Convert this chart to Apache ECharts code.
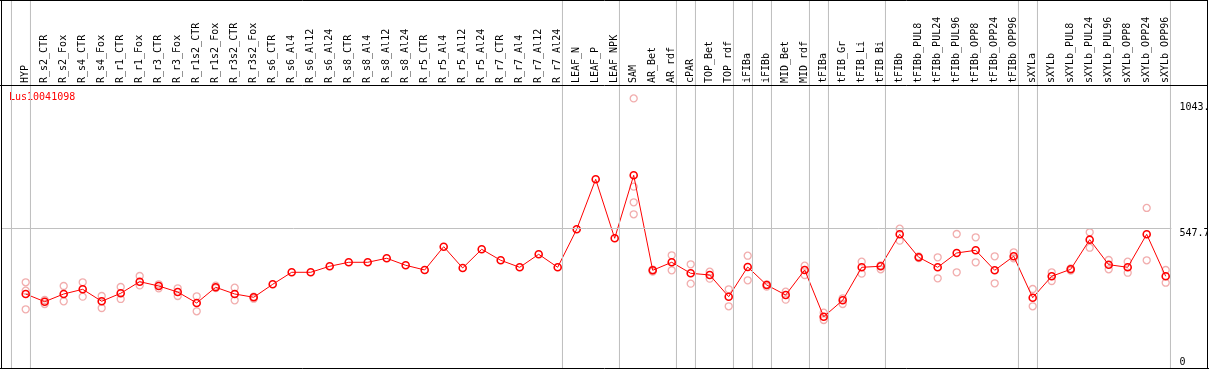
<!DOCTYPE html>
<html><head><meta charset="utf-8">
<script src="https://cdn.jsdelivr.net/npm/echarts@6/dist/echarts.min.js"></script>
<style>html,body{margin:0;padding:0;background:#fff}#c{width:1209px;height:370px}</style>
</head><body><div id="c"></div>
<script>
const chartTitle = 'Lus10041098';
const categories = ['HYP','R_s2_CTR','R_s2_Fox','R_s4_CTR','R_s4_Fox','R_r1_CTR','R_r1_Fox','R_r3_CTR','R_r3_Fox','R_r1s2_CTR','R_r1s2_Fox','R_r3s2_CTR','R_r3s2_Fox','R_s6_CTR','R_s6_Al4','R_s6_Al12','R_s6_Al24','R_s8_CTR','R_s8_Al4','R_s8_Al12','R_s8_Al24','R_r5_CTR','R_r5_Al4','R_r5_Al12','R_r5_Al24','R_r7_CTR','R_r7_Al4','R_r7_Al12','R_r7_Al24','LEAF_N','LEAF_P','LEAF_NPK','SAM','AR_Bet','AR_rdf','cPAR','TOP_Bet','TOP_rdf','iFIBa','iFIBb','MID_Bet','MID_rdf','tFIBa','tFIB_Gr','tFIB_Li','tFIB_Bi','tFIBb','tFIBb_PUL8','tFIBb_PUL24','tFIBb_PUL96','tFIBb_OPP8','tFIBb_OPP24','tFIBb_OPP96','sXYLa','sXYLb','sXYLb_PUL8','sXYLb_PUL24','sXYLb_PUL96','sXYLb_OPP8','sXYLb_OPP24','sXYLb_OPP96'];
const means = [287.6,257.3,287.6,306.1,258.9,290.4,336.1,319.1,295.5,252.2,
314.0,287.6,274.6,325.8,373.1,373.1,396.8,412.5,412.5,428.3,
400.7,382.2,474.0,390.0,463.7,420.4,392.8,444.0,392.8,542.5,
739.5,507.1,755.3,381.0,412.5,369.2,362.5,277.0,394.0,323.1,
283.7,382.2,198.2,262.8,392.8,396.8,522.8,432.2,392.8,449.2,
459.8,381.0,436.2,273.0,357.4,384.9,501.6,403.1,392.8,522.8,357.4];
const replicates = [
[333.7,300.6,227.3],[264.0,248.2],[319.1,258.9],[333.7,277.0],[279.7,232.5],
[315.2,268.0],[358.5,321.5],[325.8,310.1],[310.1,279.7],[278.6,219.5],
[320.3,311.3],[312.4,262.8],[277.0,269.1],[],[],
[],[],[],[],[],
[],[],[],[],[],
[],[],[],[],[],
[],[],[1058.0,710.4,648.9,601.6],[384.0,376.3],[440.1,381.0],
[404.6,328.2],[375.5,347.9],[306.1,239.2],[438.5,341.6],[325.8,316.4],
[296.7,265.2],[399.1,362.5],[213.9,185.2],[270.7,248.2],[414.9,367.6],
[400.7,384.9],[544.9,497.6],[435.4,429.5],[432.2,349.5],[524.0,373.1],
[511.0,412.5],[436.2,329.8],[451.9,428.3],[307.3,239.2],[373.1,338.8],
[388.0,380.2],[530.7,470.0],[421.6,384.9],[414.9,371.5],[626.5,420.4],[382.2,332.1]];
const groupEnds = [-1,0,28,31,34,35,37,38,39,41,42,45,52,53,60];
const yTickLabels = [547.7, 1043.4];
const yZeroLabel = [0];

const FONT = 'DejaVu Sans Mono';
const X_MIN = -1.3, X_MAX = 60.3, Y_MAX = 1107;
const GRID_L = 1, GRID_R = 37.6;

const repData = [];
replicates.forEach((arr, i) => arr.forEach(v => repData.push([i, v])));
const meanData = means.map((v, i) => [i, v]);
const sepData = [];
groupEnds.forEach(g => { sepData.push([g + 0.25, 0], [g + 0.25, 1], ['-', '-']); });

const xCommon = {type:'value', min:X_MIN, max:X_MAX, axisLine:{show:false}, axisTick:{show:false}, splitLine:{show:false}, axisLabel:{show:false}};
const yLabelCommon = {fontFamily:FONT, fontSize:10, color:'#000', margin:8};
const gridCommon = {left:GRID_L, right:GRID_R, outerBoundsMode:'none', containLabel:false};

const frame = [
  {type:'line', z:100, shape:{x1:0, y1:0.5, x2:1209, y2:0.5}, style:{stroke:'#000', lineWidth:1}},
  {type:'line', z:100, shape:{x1:0, y1:85.5, x2:1209, y2:85.5}, style:{stroke:'#000', lineWidth:1}},
  {type:'line', z:100, shape:{x1:1.5, y1:0, x2:1.5, y2:369}, style:{stroke:'#000', lineWidth:1}},
  {type:'rect', z:100, shape:{x:1208, y:0, width:1, height:370}, style:{fill:'#fff'}},
  {type:'line', z:101, shape:{x1:1207.5, y1:0, x2:1207.5, y2:369}, style:{stroke:'#000', lineWidth:1}},
  {type:'line', z:100, shape:{x1:0, y1:368.5, x2:1209, y2:368.5}, style:{stroke:'#000', lineWidth:1}}
];

const chart = echarts.init(document.getElementById('c'));
chart.setOption({
  animation:false,
  title:{text:chartTitle, left:9, top:92, padding:0,
    textStyle:{color:'#ff0000', fontFamily:FONT, fontSize:10, fontWeight:'normal'}},
  grid:[
    Object.assign({top:86, bottom:3}, gridCommon),
    Object.assign({top:0, height:85}, gridCommon),
    Object.assign({top:0, bottom:2}, gridCommon)
  ],
  xAxis:[
    Object.assign({}, xCommon, {gridIndex:0}),
    Object.assign({}, xCommon, {gridIndex:1, position:'bottom',
      axisLabel:{show:true, inside:true, rotate:90, margin:2,
        customValues:categories.map((c, i) => i),
        formatter:v => categories[Math.round(v)] || '',
        fontFamily:FONT, fontSize:10, color:'#000'}}),
    Object.assign({}, xCommon, {gridIndex:2})
  ],
  yAxis:[
    {type:'value', gridIndex:0, min:0, max:Y_MAX, position:'right',
      axisLine:{show:false}, axisTick:{show:false}, splitLine:{show:false},
      axisLabel:Object.assign({customValues:yTickLabels, verticalAlign:'top', align:'left', formatter:v => String(v)}, yLabelCommon)},
    {type:'value', gridIndex:0, min:0, max:Y_MAX, position:'right',
      axisLine:{show:false}, axisTick:{show:false}, splitLine:{show:false},
      axisLabel:Object.assign({customValues:yZeroLabel, verticalAlign:'bottom', align:'left', formatter:v => String(v)}, yLabelCommon)},
    {type:'value', gridIndex:1, show:false},
    {type:'value', gridIndex:2, show:false, min:0, max:1}
  ],
  graphic:frame,
  series:[
    {type:'line', xAxisIndex:2, yAxisIndex:3, z:1, silent:true, data:sepData,
      showSymbol:false, symbol:'none', connectNulls:false, clip:false,
      lineStyle:{color:'#c0c0c0', width:1, type:'solid'}},
    {type:'line', xAxisIndex:0, yAxisIndex:0, data:[], z:1, silent:true,
      markLine:{silent:true, symbol:['none','none'], label:{show:false}, animation:false,
        lineStyle:{color:'#c0c0c0', width:1, type:'solid'},
        data:[{yAxis:yTickLabels[0]}]}},
    {type:'scatter', xAxisIndex:0, yAxisIndex:0, data:repData, z:2, symbol:'circle', symbolSize:7,
      itemStyle:{color:'rgba(0,0,0,0)', borderColor:'#ee9999', borderWidth:1.3}},
    {type:'line', xAxisIndex:0, yAxisIndex:0, data:meanData, z:3, symbol:'circle', symbolSize:7,
      showAllSymbol:true,
      lineStyle:{color:'#ff0000', width:1},
      itemStyle:{color:'rgba(0,0,0,0)', borderColor:'#ff0000', borderWidth:1.6}}
  ]
});
// Separators placed through the library's own x scale (same as the series above).
const sepGraphics = groupEnds.map(g => {
  const px = Math.round(chart.convertToPixel({xAxisIndex:2}, g + 0.25)) + 0.5;
  return {type:'line', z:50, silent:true, shape:{x1:px, y1:0, x2:px, y2:368},
    style:{stroke:'#c0c0c0', lineWidth:1}};
});
chart.setOption({graphic:frame.concat(sepGraphics)});
</script></body></html>
